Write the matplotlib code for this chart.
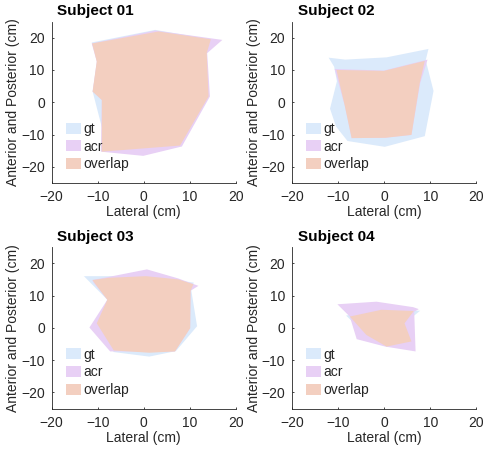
import matplotlib
matplotlib.use("Agg")
import matplotlib.pyplot as plt
from matplotlib.patches import Polygon, Patch

plt.rcParams['font.family'] = ['Liberation Sans', 'DejaVu Sans']

titles = ["Subject 01", "Subject 02", "Subject 03", "Subject 04"]
legend_labels = ["gt", "acr", "overlap"]
x_ticks = [-20, -10, 0, 10, 20]
y_ticks = [-20, -10, 0, 10, 20]

# Subject 01 outlines (cm)
gt_01 = [(-11.3, 18.5), (2.5, 22.4), (14.6, 19.5), (13.6, 14.6), (13.8, 1.8),
         (7.8, -13.2), (-8.2, -12.7), (-11.1, 3.3), (-10.0, 13.1)]
acr_01 = [(-11.3, 18.2), (2.5, 22.2), (17.1, 19.3), (13.8, 15.2), (14.4, 1.8),
          (8.3, -13.7), (-0.1, -16.6), (-9.3, -15.3), (-9.1, 0.7), (-11.1, 3.3),
          (-10.2, 12.6)]
ov_01 = [(-11.2, 18.2), (3.2, 21.9), (14.6, 19.5), (13.7, 15.2), (14.1, 1.8),
         (7.9, -13.4), (-9.1, -15.3), (-9.1, 0.7), (-11.1, 3.3), (-10.2, 12.6)]

# Subject 02
gt_02 = [(-12.1, 13.8), (-8.5, 13.2), (0.5, 13.9), (9.6, 16.5), (9.0, 13.0),
         (10.7, 3.5), (8.8, -10.5), (0.1, -13.8), (-8.0, -12.0), (-10.5, -7.5),
         (-11.8, -2.0), (-10.3, 6.5), (-10.9, 11.0)]
acr_02 = [(-10.8, 10.3), (-0.1, 9.8), (9.4, 13.2), (7.8, 5.9), (5.9, -10.1),
          (0.2, -11.0), (-7.1, -11.1), (-8.6, -1.0)]
ov_02 = [(-10.4, 10.0), (-0.1, 9.7), (8.8, 12.8), (7.7, 5.9), (5.9, -10.1),
         (0.2, -11.0), (-7.1, -11.1), (-8.6, -1.0)]

# Subject 03
gt_03 = [(-13.0, 16.0), (0.5, 16.0), (10.9, 14.0), (10.3, 12.0), (11.6, 0.5),
         (7.0, -7.2), (1.2, -8.9), (-6.5, -7.5), (-10.2, -1.0), (-9.5, 4.0),
         (-7.9, 8.7)]
acr_03 = [(-11.2, 14.8), (-7.5, 15.8), (0.7, 18.1), (7.5, 15.3), (11.9, 13.0),
          (10.2, 11.5), (10.1, -0.1), (6.8, -7.3), (-7.3, -7.3), (-11.8, 0.1),
          (-7.9, 8.7), (-10.9, 14.0)]
ov_03 = [(-11.1, 14.8), (-7.5, 15.5), (0.5, 16.0), (7.5, 15.0), (10.8, 13.5),
         (10.2, 11.5), (10.1, -0.1), (6.8, -7.3), (1.2, -7.7), (-6.5, -7.0),
         (-10.2, 1.4), (-7.9, 8.7), (-10.9, 14.3)]

# Subject 04
gt_04 = [(-8.3, 3.8), (-0.6, 5.7), (7.8, 5.3), (4.4, 1.4), (5.9, -4.2),
         (0.5, -5.8), (-3.9, -2.2)]
acr_04 = [(-10.2, 7.3), (-1.7, 8.1), (6.3, 6.4), (7.5, 5.8), (6.5, 5.0),
          (6.8, -7.3), (0.2, -5.8), (-6.0, -3.5), (-7.5, 3.5)]
ov_04 = [(-7.5, 3.5), (-0.6, 5.6), (6.4, 5.2), (4.4, 1.4), (5.9, -4.2),
         (0.5, -5.8), (-3.9, -2.2)]

gt_all = [gt_01, gt_02, gt_03, gt_04]
acr_all = [acr_01, acr_02, acr_03, acr_04]
ov_all = [ov_01, ov_02, ov_03, ov_04]

c_gt = '#dbeafb'
c_acr = '#e8d0f5'
c_ov = '#f3cfc0'
ax_col = '#262626'

W, H = 483, 451
fig = plt.figure(figsize=(W / 100, H / 100), dpi=100)

lefts = [51.7, 292.3, 51.7, 292.3]
tops = [21.5, 21.5, 247.1, 247.1]
aw, ah = 184.0, 161.5

for i in range(4):
    l, t = lefts[i], tops[i]
    ax = fig.add_axes([l / W, 1 - (t + ah) / H, aw / W, ah / H])
    ax.add_patch(Polygon(gt_all[i], closed=True, facecolor=c_gt, edgecolor='none'))
    ax.add_patch(Polygon(acr_all[i], closed=True, facecolor=c_acr, edgecolor='none'))
    ax.add_patch(Polygon(ov_all[i], closed=True, facecolor=c_ov, edgecolor='none'))
    ax.set_xlim(-20, 20)
    ax.set_ylim(-25, 25)
    ax.set_xticks(x_ticks)
    ax.set_yticks(y_ticks)
    for s in ['top', 'right']:
        ax.spines[s].set_visible(False)
    for s in ['left', 'bottom']:
        ax.spines[s].set_color(ax_col)
        ax.spines[s].set_linewidth(0.6)
    ax.tick_params(direction='in', length=1.5, width=0.6, colors=ax_col,
                   labelsize=10, pad=5)
    ax.set_xlabel("Lateral (cm)", fontsize=10, color=ax_col)
    ax.set_ylabel("Anterior and Posterior (cm)", fontsize=10, color=ax_col)
    ax.xaxis.set_label_coords(0.5, -0.136)
    ax.yaxis.set_label_coords(-0.170, 0.5)
    ax.text(0.03, 1.02, titles[i], transform=ax.transAxes, fontsize=11,
            fontweight='bold', ha='left', va='bottom', color='black')
    handles = [Patch(facecolor=c, edgecolor='none') for c in (c_gt, c_acr, c_ov)]
    ax.legend(handles, legend_labels, loc='lower left',
              bbox_to_anchor=(0.076, 0.072), frameon=False, fontsize=10,
              handlelength=1.07, handleheight=0.85, handletextpad=0.17,
              labelspacing=0.26, borderpad=0, borderaxespad=0,
              labelcolor=ax_col)

fig.savefig("out.png", dpi=100)
